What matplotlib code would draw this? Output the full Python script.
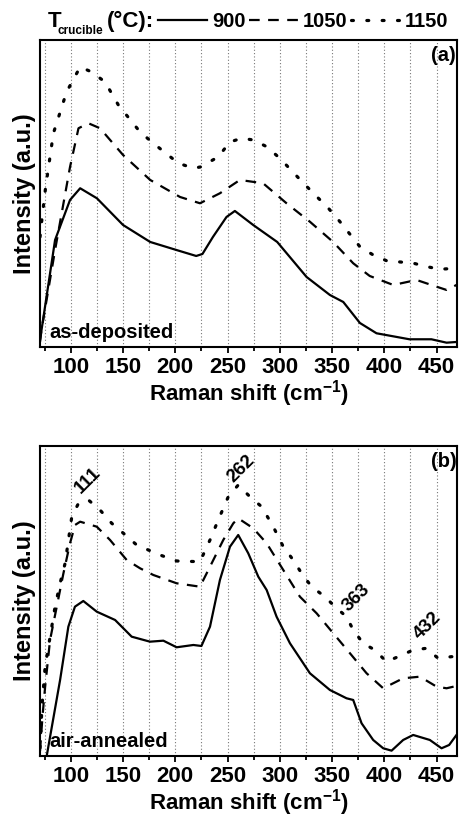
import matplotlib
matplotlib.use("Agg")
import matplotlib.pyplot as plt
from matplotlib.lines import Line2D

plt.rcParams['font.family'] = ['Liberation Sans', 'DejaVu Sans']
plt.rcParams['font.weight'] = 'bold'
plt.rcParams['mathtext.fontset'] = 'custom'
plt.rcParams['mathtext.bf'] = 'Liberation Sans:bold'
plt.rcParams['mathtext.rm'] = 'Liberation Sans:bold'

# ---------------- data ----------------
# Panel (a) as-deposited
a900_x = [70.6, 85, 99.3, 109, 125, 150, 176, 201, 220, 226, 236, 249, 257, 274.5, 297.5, 325.6, 347.9, 360.7, 376.6, 392.5, 424, 445, 459.5, 469]
a900_y = [7, 107, 147, 158.7, 148.7, 122, 105, 97, 91, 93, 110, 130, 136, 122, 105, 70, 52, 45, 24, 13.7, 7.7, 7.7, 4.3, 5]

a1050_x = [70.6, 72, 85, 99.3, 107.4, 116.9, 128, 150, 176, 204.5, 223.6, 242.7, 261.8, 284, 306.4, 328.7, 351, 370.2, 386, 408.5, 430.8, 445, 459.5, 469]
a1050_y = [5, 17, 97, 180, 218.7, 223.7, 218.7, 192, 167, 150, 143.7, 153.7, 167, 163.7, 143.7, 125.3, 105, 83.7, 71, 62, 67, 62, 57, 62]

a1150_x = [70.6, 72, 76, 83.4, 96, 109, 120, 132.8, 145.5, 166.3, 179, 203, 217.5, 224, 241, 252.3, 263.5, 274.6, 287.4, 300, 322.7, 335.4, 346.5, 357.5, 376.6, 389.3, 402, 415, 428, 440.8, 453, 468]
a1150_y = [110, 124, 160, 213.7, 255, 280, 275, 265, 242, 215, 203.7, 183.7, 178.7, 180, 190, 205, 208.7, 207, 200.3, 188.7, 163.7, 150.3, 138.7, 125.3, 100.3, 92, 86.3, 85, 83.7, 80.3, 77.7, 78.7]

# Panel (b) air-annealed
b900_x = [77, 89.8, 97.7, 104, 112, 124.9, 142.4, 158.3, 175.8, 188.6, 201.3, 217.3, 225, 233.2, 242.7, 252.3, 260.2, 269.8, 279.4, 287.4, 296.9, 309.7, 328.8, 347.9, 363.8, 370.2, 378.2, 389.3, 398.9, 406.9, 418, 427.6, 443.5, 454.7, 462, 469]
b900_y = [0, 76, 129.3, 149.3, 155, 144.3, 136, 119.3, 114.3, 115.3, 108.7, 111, 110, 129.3, 176, 209.3, 221, 202.7, 179.3, 166, 139.3, 112.7, 82.7, 66, 57.7, 56, 32.7, 16, 7.7, 5.3, 16, 21, 16, 7.7, 11, 21]

b1050_x = [70.6, 73, 75.5, 80.2, 86.6, 93, 99.3, 104.1, 109, 124.9, 137.6, 153.5, 166.3, 179, 201.3, 223.6, 233.2, 245.9, 255.5, 260.2, 274.6, 287.4, 303.3, 319.2, 335.2, 351.1, 367.1, 383, 398.9, 418, 434, 450, 459.5, 469]
b1050_y = [5, 40, 69.3, 116, 149.3, 182.7, 212.7, 231, 234.3, 229.3, 216, 196, 187.7, 181, 172.7, 169.3, 189.3, 216, 232.7, 237.7, 227.7, 212.7, 186, 159.3, 142.7, 122.7, 102.7, 82.7, 67.7, 77.7, 79.3, 69.3, 67.7, 70]

b1150_x = [70.6, 72.5, 75.5, 85, 89.8, 94.6, 97.8, 101, 107.4, 116.9, 128, 139.2, 150.4, 163.1, 185.4, 201.3, 223.6, 233.2, 241.1, 250.7, 260.2, 271.4, 282.6, 293.7, 303.3, 312.8, 320.8, 330.4, 343.1, 352.7, 363.8, 370.2, 379.7, 390.9, 402, 414.8, 427.6, 440.3, 451.4, 464.2, 469]
b1150_y = [8, 50, 89.3, 149.3, 172.7, 192.7, 216, 239.3, 252.7, 256, 246, 232.7, 222.7, 211, 201, 195, 194.3, 216, 236, 259.3, 271, 259.3, 249.3, 229.3, 209.3, 196, 182.7, 169.3, 159.3, 149.3, 139.3, 126, 112.7, 106, 94.3, 100, 106, 107.7, 97.7, 99.3, 99]

series_labels = ['900', '1050', '1150']
panel_tags = ['(a)', '(b)']
panel_names = ['as-deposited', 'air-annealed']
peak_positions = [111, 262, 363, 432]
peak_heights = [275, 287, 158.5, 130]
peak_labels = ['111', '262', '363', '432']
label_offsets_pt = [(3.8, 0), (1.0, 0), (8.0, 0), (6.8, 0)]

major_ticks = [100, 150, 200, 250, 300, 350, 400, 450]
grid_positions = list(range(75, 451, 25))

# ---------------- figure ----------------
fig = plt.figure(figsize=(4.6, 8.17), dpi=100)
ax_a = fig.add_axes([0.087, 0.5753, 0.9065, 0.3758])
ax_b = fig.add_axes([0.087, 0.0747, 0.9065, 0.3794])

styles = [
    dict(color='black', lw=1.6, linestyle='-'),
    dict(color='black', lw=1.6, linestyle=(0, (4.8, 3.8))),
    dict(color='black', lw=2.3, linestyle=(0, (0.6, 4.2)), dash_capstyle='round'),
]

data_a = [(a900_x, a900_y), (a1050_x, a1050_y), (a1150_x, a1150_y)]
data_b = [(b900_x, b900_y), (b1050_x, b1050_y), (b1150_x, b1150_y)]

for ax, data, ylim, tag, name in [(ax_a, data_a, 307, panel_tags[0], panel_names[0]),
                                  (ax_b, data_b, 310, panel_tags[1], panel_names[1])]:
    for (x, y), st in zip(data, styles):
        ax.plot(x, y, **st)
    ax.set_xlim(70.6, 469.5)
    ax.set_ylim(0, ylim)
    for g in grid_positions:
        ax.axvline(g, color='#777777', lw=0.8, linestyle=(0, (1, 2)), zorder=0)
    ax.set_xticks(major_ticks)
    ax.set_xticks(grid_positions, minor=True)
    ax.set_yticks([])
    ax.tick_params(axis='x', which='major', direction='out', length=4, width=1.3, pad=3, labelsize=16)
    ax.tick_params(axis='x', which='minor', direction='out', length=3, width=1.3)
    for lab in ax.get_xticklabels():
        lab.set_fontweight('bold')
    for sp in ax.spines.values():
        sp.set_linewidth(1.5)
    ax.set_xlabel('Raman shift (cm$^{\\mathbf{-1}}$)', fontsize=16, fontweight='bold', labelpad=0.5)
    ax.set_ylabel('Intensity (a.u.)', fontsize=17, fontweight='bold', labelpad=3)
    ax.text(0.968, 0.95, tag, transform=ax.transAxes, ha='center', va='center', fontsize=14.5, fontweight='bold')
    ax.text(0.022, 0.046, name, transform=ax.transAxes, ha='left', va='center', fontsize=14.5, fontweight='bold')

for px, ph, pl, off in zip(peak_positions, peak_heights, peak_labels, label_offsets_pt):
    ax_b.annotate(pl, xy=(px, ph), xytext=off, textcoords='offset points',
                  ha='center', va='center', rotation=45, fontsize=13.5, fontweight='bold')

# header legend
fig.text(0.104, 0.974, 'T', fontsize=16, fontweight='bold', ha='left', va='center')
fig.text(0.126, 0.962, 'crucible', fontsize=8.5, fontweight='bold', ha='left', va='center')
fig.text(0.232, 0.974, '(°C):', fontsize=16, fontweight='bold', ha='left', va='center')
handles = [Line2D([], [], **st) for st in styles]
fig.legend(handles, series_labels, ncol=3, frameon=False, loc='center left',
           bbox_to_anchor=(0.343, 0.974), handlelength=2.45, handletextpad=0.25,
           columnspacing=0.15, prop=dict(size=14.5, weight='bold'), borderaxespad=0, borderpad=0)

fig.savefig('out.png', dpi=100)
